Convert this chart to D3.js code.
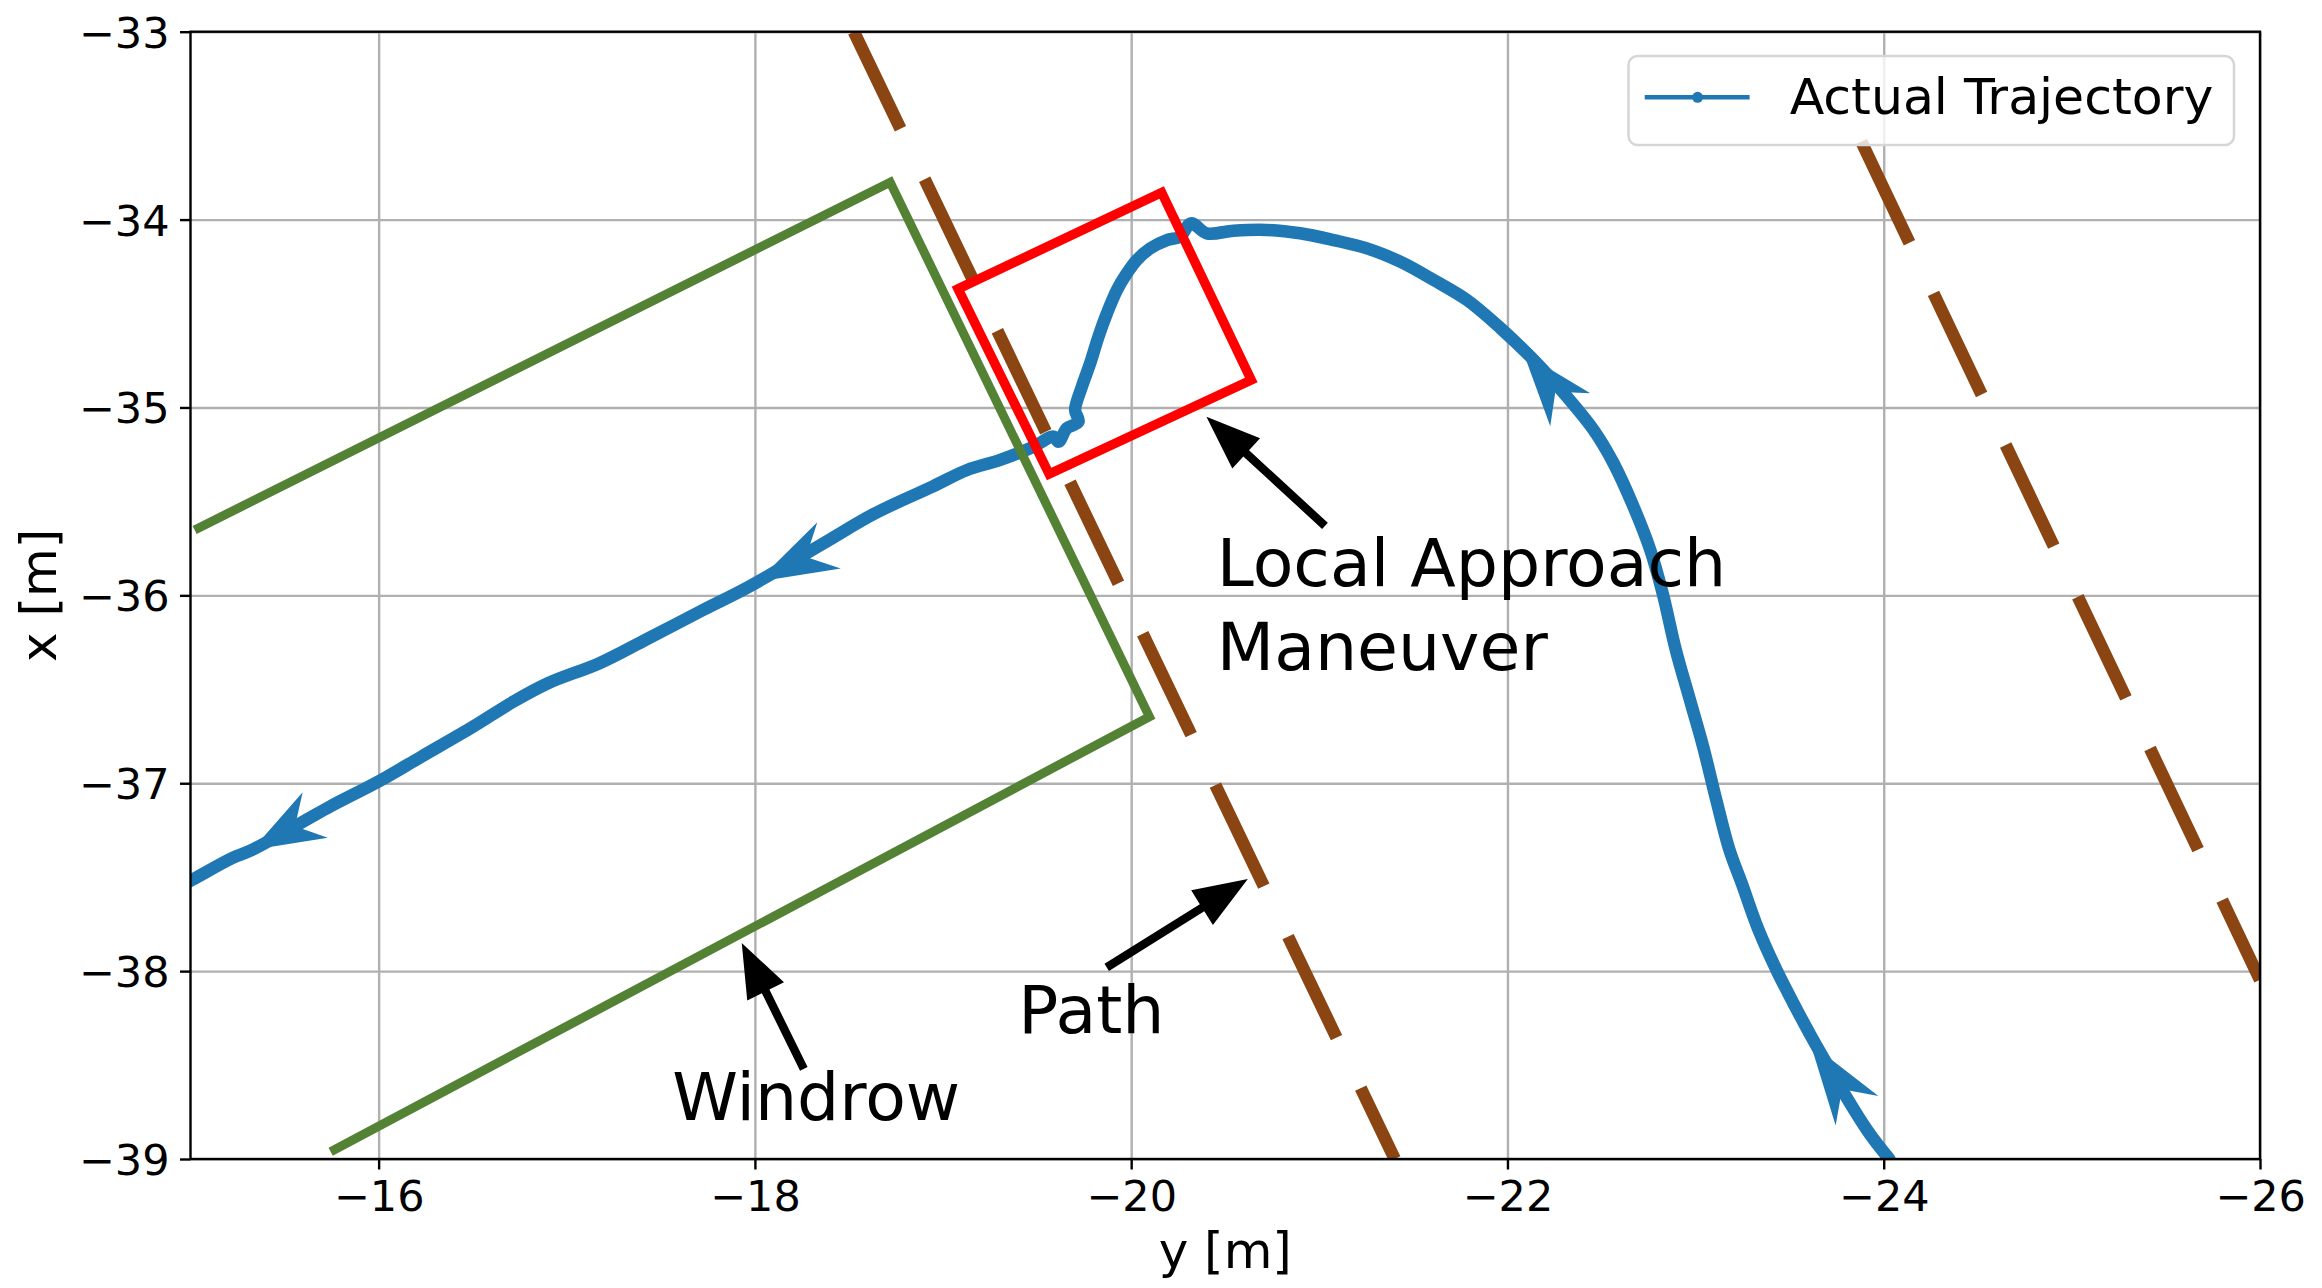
<!DOCTYPE html>
<html><head><meta charset="utf-8">
<script src="https://cdn.jsdelivr.net/npm/d3@7"></script>
<style>body{margin:0;background:#fff}svg{display:block}</style>
</head><body>
<svg id="chart" width="2322" height="1288"></svg>
<script>
// ---- data (horizontal axis = "y [m]", vertical axis = "x [m]") ----
const hTicks = [-16, -18, -20, -22, -24, -26];
const vTicks = [-33, -34, -35, -36, -37, -38, -39];

const trajY = [-24.03,-23.911,-23.645,-23.52,-23.43,-23.335,-23.245,-23.18,-23.11,-23.04,-22.97,-22.895,-22.825,-22.759,-22.670,-22.564,-22.458,-22.316,-22.139,-21.962,-21.785,-21.607,-21.430,-21.253,-21.075,-20.898,-20.721,-20.544,-20.402,-20.318,-20.260,-20.190,-20.101,-20.030,-19.977,-19.924,-19.871,-19.826,-19.782,-19.738,-19.702,-19.720,-19.658,-19.614,-19.587,-19.481,-19.304,-19.128,-18.944,-18.639,-18.364,-17.968,-17.724,-17.418,-17.174,-16.900,-16.716,-16.502,-16.228,-15.999,-15.740,-15.327,-15.221,-15.007,-14.90];
const trajX = [-39.00,-38.845,-38.402,-38.171,-37.994,-37.782,-37.532,-37.355,-37.089,-36.805,-36.557,-36.291,-35.989,-35.758,-35.528,-35.297,-35.120,-34.943,-34.747,-34.577,-34.428,-34.321,-34.224,-34.153,-34.109,-34.073,-34.055,-34.059,-34.073,-34.020,-34.091,-34.109,-34.153,-34.215,-34.286,-34.375,-34.499,-34.623,-34.765,-34.889,-35.013,-35.076,-35.111,-35.182,-35.155,-35.209,-35.279,-35.333,-35.421,-35.563,-35.723,-35.954,-36.078,-36.237,-36.361,-36.468,-36.566,-36.699,-36.858,-36.991,-37.125,-37.355,-37.399,-37.515,-37.57];

// direction arrowheads on trajectory: tip and base centre
const dirTipY  = [-23.610, -22.086, -18.013, -15.327];
const dirTipX  = [-38.384, -34.712, -35.927, -37.355];
const dirBaseY = [-23.858, -22.334, -18.394, -15.663];
const dirBaseX = [-38.743, -35.012, -35.734, -37.169];

const windrowY = [-15.022, -18.719, -20.097, -15.745];
const windrowX = [-35.652, -33.801, -36.646, -38.961];

const path1Y = [-18.526, -21.401];
const path1X = [-33.0, -39.0];
const path2Y = [-23.881, -26.0];
const path2X = [-33.585, -38.046];

const rectY = [-19.080, -20.162, -20.638, -19.564];
const rectX = [-34.369, -33.856, -34.854, -35.354];

const annotLines = [["Local Approach", "Maneuver"], ["Path"], ["Windrow"]];
const annotTextY = [-20.455, -19.40, -17.56];
const annotTextX = [-35.95, -38.33, -38.79];
const annotTipY  = [-20.40, -20.62, -17.93];
const annotTipX  = [-35.05, -37.51, -37.85];
const annotTailY = [-21.03, -19.87, -18.26];
const annotTailX = [-35.63, -37.98, -38.52];

const legendLabel = "Actual Trajectory";
const hLabel = "y [m]";
const vLabel = "x [m]";

// ---- layout ----
const L = 190.5, R = 2260, T = 31.7, B = 1159;
const FONT = "'DejaVu Sans', sans-serif";
const blue = "#1f77b4";

const sx = d3.scaleLinear().domain([-15, -26]).range([L, R]);
const sy = d3.scaleLinear().domain([-33, -39]).range([T, B]);

const svg = d3.select("#chart");
svg.append("rect").attr("width", 2322).attr("height", 1288).attr("fill", "#fff");

svg.append("defs").append("clipPath").attr("id", "clip")
  .append("rect").attr("x", L).attr("y", T).attr("width", R - L).attr("height", B - T);

// grid
const grid = svg.append("g");
grid.append("g").attr("transform", `translate(0,${B})`)
  .call(d3.axisBottom(sx).tickValues(hTicks).tickSize(-(B - T)).tickFormat(""))
  .call(g => g.select(".domain").remove())
  .call(g => g.selectAll("line").attr("stroke", "#b0b0b0").attr("stroke-width", 2.4));
grid.append("g").attr("transform", `translate(${L},0)`)
  .call(d3.axisLeft(sy).tickValues(vTicks).tickSize(-(R - L)).tickFormat(""))
  .call(g => g.select(".domain").remove())
  .call(g => g.selectAll("line").attr("stroke", "#b0b0b0").attr("stroke-width", 2.4));

const plot = svg.append("g").attr("clip-path", "url(#clip)");

// trajectory
const pts = trajY.map((d, i) => [sx(d), sy(trajX[i])]);
plot.append("path")
  .attr("d", d3.line().curve(d3.curveCatmullRom.alpha(0.5))(pts))
  .attr("fill", "none").attr("stroke", blue).attr("stroke-width", 12.5)
  .attr("stroke-linejoin", "round").attr("stroke-linecap", "round");

// windrow
plot.append("path")
  .attr("d", d3.line()(windrowY.map((d, i) => [sx(d), sy(windrowX[i])])))
  .attr("fill", "none").attr("stroke", "#548235").attr("stroke-width", 9)
  .attr("stroke-linejoin", "miter");

// path lines (dashed)
plot.append("path")
  .attr("d", d3.line()(path1Y.map((d, i) => [sx(d), sy(path1X[i])])))
  .attr("fill", "none").attr("stroke", "#8b4513").attr("stroke-width", 12.5)
  .attr("stroke-dasharray", "112,56").attr("stroke-dashoffset", 4.3);
plot.append("path")
  .attr("d", d3.line()(path2Y.map((d, i) => [sx(d), sy(path2X[i])])))
  .attr("fill", "none").attr("stroke", "#8b4513").attr("stroke-width", 12.5)
  .attr("stroke-dasharray", "112,56");

// local approach rectangle
plot.append("path")
  .attr("d", d3.line()(rectY.map((d, i) => [sx(d), sy(rectX[i])])) + "Z")
  .attr("fill", "none").attr("stroke", "#ff0000").attr("stroke-width", 9.5)
  .attr("stroke-linejoin", "miter");

// direction arrowheads
dirTipY.forEach((d, i) => {
  const tx = sx(d), ty = sy(dirTipX[i]);
  const bx = sx(dirBaseY[i]), by = sy(dirBaseX[i]);
  const len = Math.hypot(bx - tx, by - ty);
  const ux = (bx - tx) / len, uy = (by - ty) / len;
  const nx = -uy, ny = ux, hw = 26;
  const notch = [tx + ux * len * 0.68, ty + uy * len * 0.68];
  plot.append("path")
    .attr("d", `M${tx},${ty}L${bx + nx * hw},${by + ny * hw}L${notch[0]},${notch[1]}L${bx - nx * hw},${by - ny * hw}Z`)
    .attr("fill", blue);
});

// spines
svg.append("rect").attr("x", L).attr("y", T).attr("width", R - L).attr("height", B - T)
  .attr("fill", "none").attr("stroke", "#000").attr("stroke-width", 2.4);

// axes ticks
const fmt = d3.format("d");
const xa = svg.append("g").attr("transform", `translate(0,${B})`)
  .call(d3.axisBottom(sx).tickValues(hTicks).tickSize(10.5).tickPadding(10.5).tickFormat(fmt));
xa.select(".domain").remove();
xa.selectAll("line").attr("stroke", "#000").attr("stroke-width", 2.4);
xa.selectAll("text").attr("font-family", FONT).attr("font-size", 43).attr("fill", "#000")
  .attr("dy", null).attr("y", 52);

const ya = svg.append("g").attr("transform", `translate(${L},0)`)
  .call(d3.axisLeft(sy).tickValues(vTicks).tickSize(10.5).tickPadding(10.5).tickFormat(fmt));
ya.select(".domain").remove();
ya.selectAll("line").attr("stroke", "#000").attr("stroke-width", 2.4);
ya.selectAll("text").attr("font-family", FONT).attr("font-size", 43).attr("fill", "#000")
  .attr("dy", "0.36em");

// axis labels
svg.append("text").attr("x", (L + R) / 2).attr("y", 1268).attr("text-anchor", "middle")
  .attr("font-family", FONT).attr("font-size", 50).attr("fill", "#000").text(hLabel);
svg.append("text").attr("transform", `translate(56,${(T + B) / 2}) rotate(-90)`)
  .attr("text-anchor", "middle")
  .attr("font-family", FONT).attr("font-size", 50).attr("fill", "#000").text(vLabel);

// annotations (black arrows + text)
annotLines.forEach((lines, i) => {
  const tx = sx(annotTipY[i]), ty = sy(annotTipX[i]);
  const ax = sx(annotTailY[i]), ay = sy(annotTailX[i]);
  const len = Math.hypot(ax - tx, ay - ty);
  const ux = (ax - tx) / len, uy = (ay - ty) / len;
  const nx = -uy, ny = ux;
  const hl = 54, hw = 20.5, sw = 4.2;
  const bx = tx + ux * hl, by = ty + uy * hl;
  const p = [
    [tx, ty],
    [bx + nx * hw, by + ny * hw],
    [bx + nx * sw, by + ny * sw],
    [ax + nx * sw, ay + ny * sw],
    [ax - nx * sw, ay - ny * sw],
    [bx - nx * sw, by - ny * sw],
    [bx - nx * hw, by - ny * hw]
  ];
  svg.append("path").attr("d", d3.line()(p) + "Z").attr("fill", "#000");
  const t = svg.append("text").attr("font-family", FONT).attr("font-size", 66.5).attr("fill", "#000");
  lines.forEach((s, j) => {
    t.append("tspan").attr("x", sx(annotTextY[i])).attr("y", sy(annotTextX[i]) + j * 84).text(s);
  });
});

// legend
const lg = svg.append("g");
lg.append("rect").attr("x", 1628.5).attr("y", 56).attr("width", 605.5).attr("height", 89)
  .attr("rx", 9).attr("fill", "#fff").attr("fill-opacity", 0.8)
  .attr("stroke", "#d6d6d6").attr("stroke-width", 2.5);
lg.append("line").attr("x1", 1644.7).attr("x2", 1749.6).attr("y1", 97.3).attr("y2", 97.3)
  .attr("stroke", blue).attr("stroke-width", 4.5);
lg.append("circle").attr("cx", 1697.6).attr("cy", 97.3).attr("r", 5.5).attr("fill", blue);
lg.append("text").attr("x", 1789.7).attr("y", 114).attr("font-family", FONT)
  .attr("font-size", 50.5).attr("fill", "#000").text(legendLabel);
</script>
</body></html>
